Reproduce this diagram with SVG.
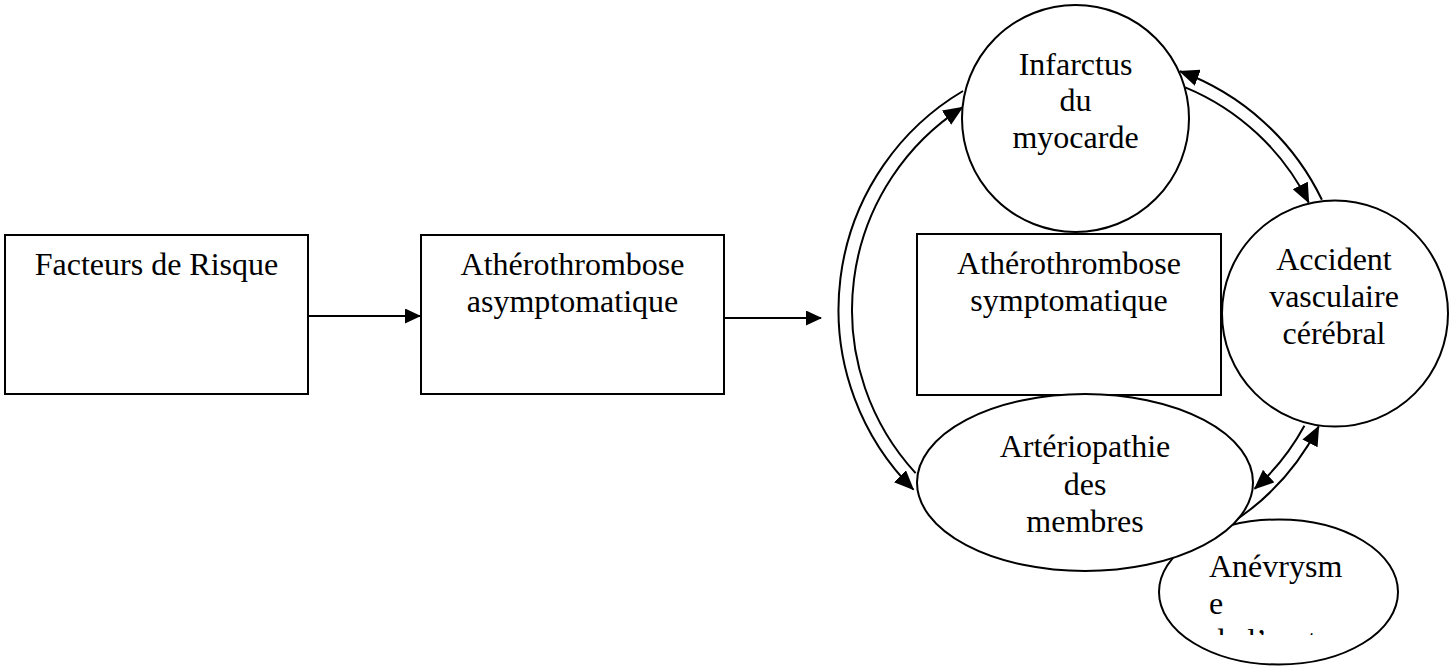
<svg xmlns="http://www.w3.org/2000/svg" width="1450" height="668" viewBox="0 0 1450 668">
  <style>
    .shape { fill: #ffffff; stroke: #000000; stroke-width: 2; }
    .lbl { font-family: "Liberation Serif", "Times New Roman", serif; font-size: 32px; fill: #000000; }
    .mid { text-anchor: middle; }
    .conn { fill: none; stroke: #000000; stroke-width: 2; marker-end: url(#arrow); }
    .arc { fill: none; stroke: #000000; stroke-width: 2; marker-end: url(#arrowBig); }
  </style>
  <defs>
    <marker id="arrow" viewBox="0 0 16 15" refX="15" refY="7.5" markerWidth="16" markerHeight="15" markerUnits="userSpaceOnUse" orient="auto">
      <path d="M0,0 L16,7.5 L0,15 z" fill="#000000"/>
    </marker>
    <marker id="arrowBig" viewBox="0 0 20 17" refX="19" refY="8.5" markerWidth="20" markerHeight="17" markerUnits="userSpaceOnUse" orient="auto">
      <path d="M0,0 L20,8.5 L0,17 z" fill="#000000"/>
    </marker>
    <clipPath id="clipAnev">
      <rect x="1150" y="530" width="260" height="105"/>
    </clipPath>
  </defs>
  <rect x="0" y="0" width="1450" height="668" fill="#ffffff"/>

  <g id="connectors">
    <line class="conn" x1="308" y1="316" x2="420" y2="316"/>
    <line class="conn" x1="724" y1="318" x2="821" y2="318"/>
    <!-- left pair -->
    <path class="arc" d="M 963 91 A 254 254 0 0 0 913.4 489.6"/>
    <path class="arc" d="M 915.6 473.1 A 241 241 0 0 1 962.5 107.4"/>
    <!-- top right pair -->
    <path class="arc" d="M 1321.9 199.8 A 254 254 0 0 0 1179.9 71.3"/>
    <path class="arc" d="M 1185.2 87.3 A 241 241 0 0 1 1308.7 202.5"/>
    <!-- bottom right pair -->
    <path class="arc" d="M 1304.4 425.7 A 241 241 0 0 1 1254.6 488.8"/>
    <path class="arc" d="M 1220 530 A 254 254 0 0 0 1318.7 426.5"/>
  </g>

  <g id="facteurs">
    <rect class="shape" x="5" y="235" width="303" height="159"/>
    <text class="lbl mid" x="156.5" y="275">Facteurs de Risque</text>
  </g>

  <g id="athero-asymptomatique">
    <rect class="shape" x="421" y="235" width="303" height="159"/>
    <text class="lbl mid" x="572.5" y="275">Athérothrombose</text>
    <text class="lbl mid" x="572.5" y="312">asymptomatique</text>
  </g>

  <g id="athero-symptomatique">
    <rect class="shape" x="917" y="234" width="304" height="161"/>
    <text class="lbl mid" x="1069" y="274">Athérothrombose</text>
    <text class="lbl mid" x="1069" y="311">symptomatique</text>
  </g>

  <g id="infarctus">
    <circle class="shape" cx="1075.5" cy="118.5" r="113.5"/>
    <text class="lbl mid" x="1075.5" y="75">Infarctus</text>
    <text class="lbl mid" x="1075.5" y="111">du</text>
    <text class="lbl mid" x="1075.5" y="148">myocarde</text>
  </g>

  <g id="avc">
    <circle class="shape" cx="1335" cy="313.5" r="113"/>
    <text class="lbl mid" x="1334" y="270">Accident</text>
    <text class="lbl mid" x="1334" y="307">vasculaire</text>
    <text class="lbl mid" x="1334" y="344">cérébral</text>
  </g>

  <g id="anevrysme">
    <ellipse class="shape" cx="1278.5" cy="592" rx="119.5" ry="72.5"/>
    <g clip-path="url(#clipAnev)">
      <text class="lbl" x="1209" y="577">Anévrysm</text>
      <text class="lbl" x="1209" y="613.5">e</text>
      <text class="lbl" x="1209" y="651">de l’aorte</text>
    </g>
  </g>

  <g id="arteriopathie">
    <ellipse class="shape" cx="1085" cy="482.5" rx="168" ry="88.5"/>
    <text class="lbl mid" x="1085" y="457">Artériopathie</text>
    <text class="lbl mid" x="1085" y="495">des</text>
    <text class="lbl mid" x="1085" y="532">membres</text>
  </g>
</svg>
